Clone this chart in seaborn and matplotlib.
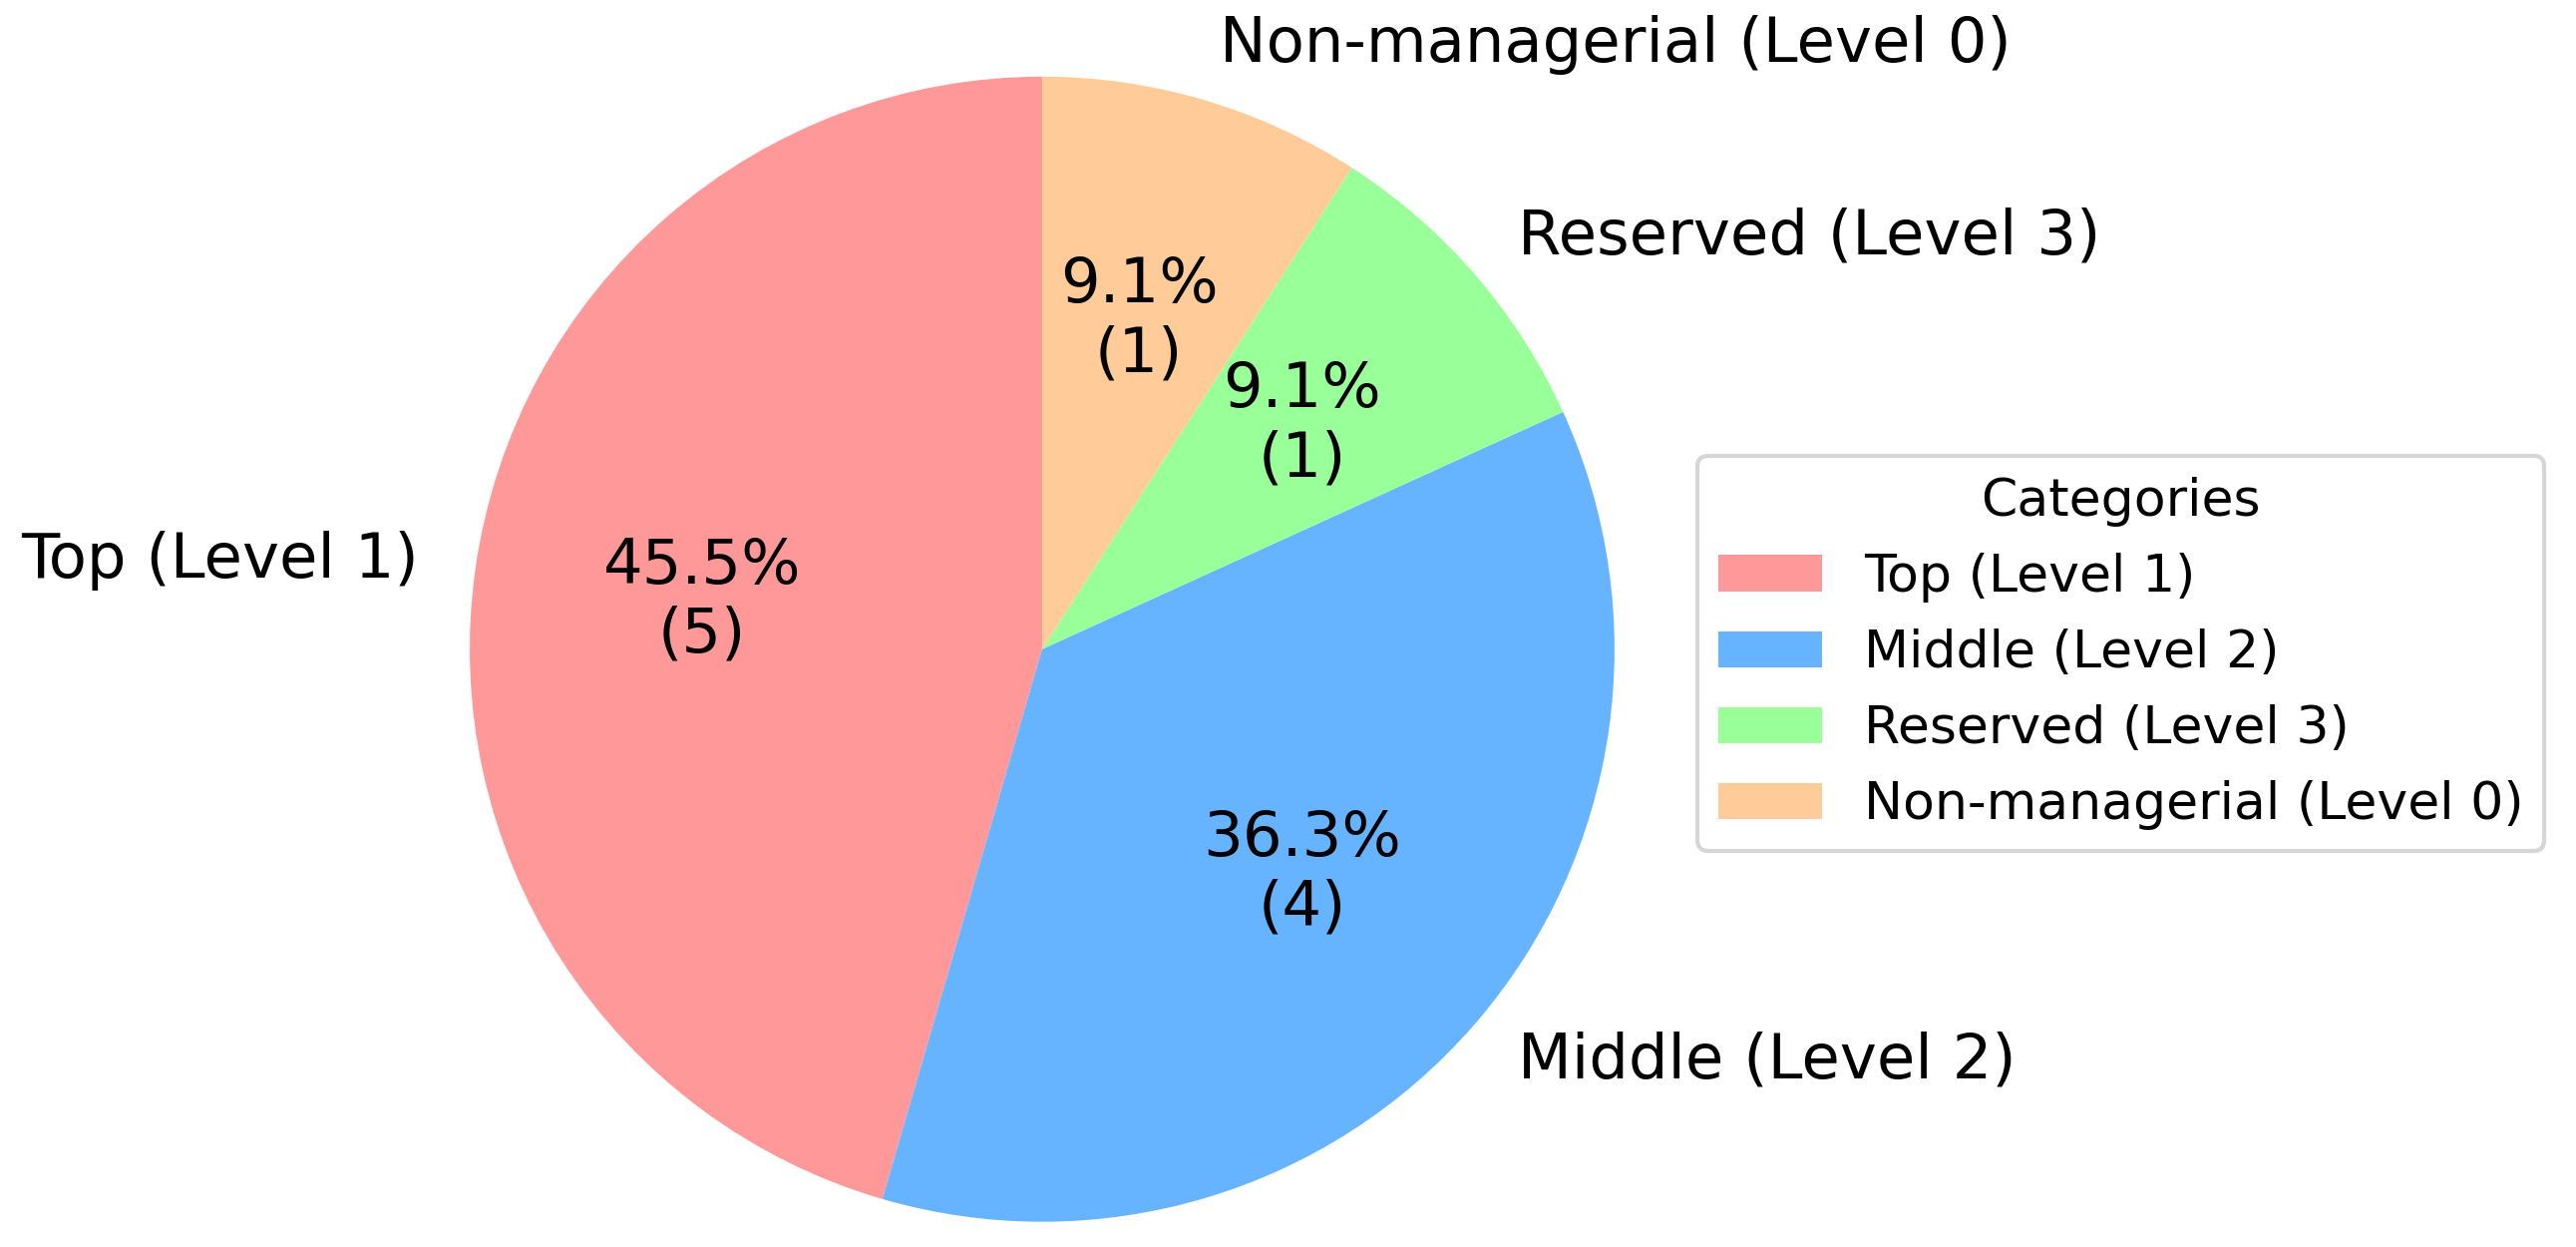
import matplotlib
matplotlib.use('Agg')
import matplotlib.pyplot as plt
import seaborn as sns

sns.set_style('white')
plt.rcParams['font.family'] = ['DejaVu Sans']
plt.rcParams['text.color'] = 'black'

# data
categories = ['Top (Level 1)', 'Middle (Level 2)', 'Reserved (Level 3)', 'Non-managerial (Level 0)']
shares = [45.5, 36.3, 9.1, 9.1]   # percent as shown
counts = [5, 4, 1, 1]
colors = ['#ff9999', '#66b3ff', '#99ff99', '#ffcc99']

fig = plt.figure(figsize=(8.61, 4.1667), dpi=300)
ax = fig.add_axes([0.1268, -0.0946, 0.5555, 1.148])

it = iter(counts)
def fmt(pct):
    return f'{pct:.1f}%\n({next(it)})'

wedges, texts, autotexts = ax.pie(shares, labels=categories, colors=colors,
                                  startangle=90, autopct=fmt,
                                  wedgeprops={'linewidth': 0},
                                  textprops={'fontsize': 15, 'color': 'black'})
ax.set_aspect('equal')

leg = fig.legend(wedges, categories, title='Categories', loc='center left',
                 bbox_to_anchor=(0.659, 0.476), bbox_transform=fig.transFigure,
                 borderaxespad=0, fontsize=12.5, title_fontsize=12.5)
plt.setp(leg.get_texts(), color='black')
leg.get_title().set_color('black')

fig.savefig('out.png', dpi=300)
